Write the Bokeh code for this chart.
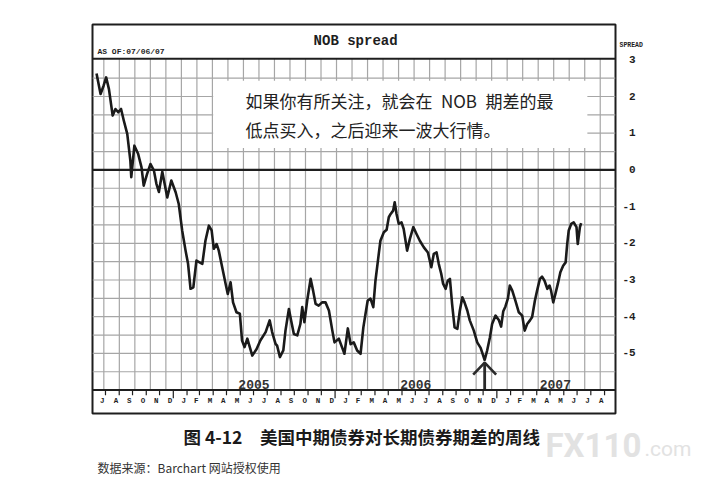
import pandas as pd
from bokeh.plotting import figure
from bokeh.layouts import column, row
from bokeh.models import Range1d, LinearAxis, FixedTicker, Label, Span, BoxAnnotation
from bokeh.embed import file_html
from bokeh.resources import INLINE
from bokeh.core.properties import value

# ---------------- data ----------------
first_bar_date = "2004-07-09"          # weekly bars, week index counted from this Friday
week_idx = [0.4, 1.7, 2.7, 3.5, 4.4, 5.6, 6.5, 7.4, 8.3, 9.2,
            10.3, 11.3, 11.6, 12.6, 13.8, 14.9, 15.6, 16.7, 17.8, 18.9,
            19.7, 20.5, 21.6, 23.2, 24.5, 25.9, 26.9, 28.0, 29.1, 29.9,
            30.7, 31.6, 32.6, 34.5, 35.5, 36.6, 37.5, 38.2, 39.1, 39.8,
            40.9, 42.0, 42.7, 43.6, 44.4, 45.5, 46.6, 47.3, 48.1, 49.0,
            49.8, 50.6, 52.0, 53.2, 54.9, 56.2, 57.0, 58.1, 58.6, 59.5,
            60.6, 61.3, 62.4, 63.1, 64.0, 65.1, 66.1, 66.7, 67.4, 68.3,
            69.4, 70.2, 71.0, 72.0, 73.1, 74.2, 75.3, 76.4, 77.1, 78.5,
            79.6, 80.3, 81.4, 82.3, 83.3, 84.4, 85.5, 86.4, 87.1, 87.8,
            88.7, 89.6, 90.3, 91.1, 91.9, 93.0, 93.9, 94.6, 95.2, 96.0,
            96.5, 97.1, 97.8, 98.7, 99.4, 100.5, 101.4, 102.5, 103.5, 104.6,
            105.9, 107.2, 108.3, 109.1, 110.0, 110.7, 111.5, 112.1, 112.9, 113.6,
            114.3, 115.0, 115.8, 116.7, 117.5, 118.3, 119.0, 119.9, 120.7, 122.0,
            123.1, 124.2, 125.5, 126.3, 127.2, 127.9, 129.0, 130.1, 130.8, 131.5,
            132.2, 133.0, 133.6, 134.4, 135.4, 136.5, 137.6, 138.4, 139.2, 140.1,
            140.8, 141.7, 142.4, 143.3, 144.0, 144.8, 145.7, 146.4, 146.9, 147.6,
            148.3, 149.1, 149.9, 150.8, 151.6, 152.1, 152.6, 153.4, 154.2, 155.1,
            155.5, 156.2, 156.6]
spread = [2.63, 2.07, 2.30, 2.52, 2.20, 1.48, 1.66, 1.57, 1.66, 1.34,
          0.98, 0.25, -0.20, 0.66, 0.44, 0.07, -0.43, -0.11, 0.16, -0.02,
          -0.38, -0.60, -0.05, -0.75, -0.29, -0.61, -0.93, -1.65, -2.20, -2.56,
          -3.24, -3.20, -2.47, -2.56, -1.93, -1.52, -1.65, -2.15, -2.02, -2.20,
          -2.65, -3.10, -3.38, -3.06, -3.61, -3.88, -3.92, -4.65, -4.83, -4.60,
          -4.83, -5.06, -4.88, -4.65, -4.42, -4.10, -4.42, -4.74, -4.79, -5.10,
          -4.92, -4.38, -3.79, -4.10, -4.47, -4.51, -4.20, -3.74, -4.15, -3.56,
          -2.97, -3.29, -3.65, -3.70, -3.61, -3.61, -3.83, -4.38, -4.70, -4.60,
          -4.85, -5.01, -4.32, -4.75, -4.70, -4.92, -5.01, -4.29, -3.92, -3.56,
          -3.51, -3.74, -3.02, -2.47, -1.93, -1.70, -1.63, -1.29, -1.20, -1.11,
          -0.88, -1.20, -1.47, -1.43, -1.61, -2.20, -1.88, -1.56, -1.74, -1.93,
          -2.11, -2.25, -2.65, -2.29, -2.25, -2.56, -2.83, -3.10, -3.24, -3.02,
          -2.97, -3.65, -4.29, -4.33, -3.83, -3.47, -3.61, -3.83, -4.10, -4.38,
          -4.70, -4.85, -5.18, -4.92, -4.56, -4.20, -3.97, -4.10, -4.27, -3.85,
          -3.72, -3.50, -3.15, -3.29, -3.56, -3.88, -3.97, -4.38, -4.20, -4.10,
          -4.01, -3.56, -3.29, -2.97, -2.91, -3.02, -3.24, -3.15, -3.29, -3.61,
          -3.38, -3.10, -2.79, -2.61, -2.52, -2.02, -1.65, -1.47, -1.43, -1.56,
          -2.02, -1.56, -1.45]

month_first = "2004-07-01"
month_letters = list("JASONDJFMAMJJASONDJFMAMJJASONDJFMAMJJA")
year_labels = ["2005", "2006", "2007"]
year_label_dates = ["2005-07-02", "2006-07-02", "2007-05-13"]
y_ticks = [-5, -4, -3, -2, -1, 0, 1, 2, 3]

title_text = "NOB spread"
asof_text = "AS OF:07/06/07"
axis_name = "SPREAD"
note_lines = ["如果你有所关注，就会在\u2002NOB\u2002期差的最", "低点买入，之后迎来一波大行情。"]
caption_text = "图 4-12\u3000美国中期债券对长期债券期差的周线"
source_text = "数据来源：Barchart 网站授权使用"
watermark_main = "FX110"
watermark_tail = ".com"

# ---------------- helpers ----------------
base = pd.Timestamp(first_bar_date)


def to_week(d):
    return (pd.Timestamp(d) - base).days / 7.0


months = pd.date_range(month_first, periods=len(month_letters), freq="MS")
month_end_w = [to_week(m + pd.offsets.MonthBegin(1)) for m in months]
month_is_dec = [m.month == 12 for m in months]
year_w = [to_week(d) for d in year_label_dates]

X0, X1 = -0.9, 167.67
Y_LO, Y_HI = -6.0, 3.03          # plotting area inside the box
INK = "#1e1e1e"

p = figure(width=727, height=420, x_range=Range1d(X0, X1), y_range=Range1d(-6.638, 3.962),
           output_backend="svg", toolbar_location=None,
           x_axis_location=None, y_axis_location=None,
           min_border_left=92, min_border_right=112, min_border_top=24, min_border_bottom=7)
p.grid.visible = False
p.outline_line_color = INK
p.outline_line_width = 2
p.background_fill_color = "white"
p.border_fill_color = "white"

# grid
gx = [2.75 + 5 * k for k in range(33)]
p.segment(x0=gx, y0=[Y_LO] * len(gx), x1=gx, y1=[Y_HI] * len(gx),
          line_color="#a6a6a6", line_width=1.2)
gy = [-5.5 + 0.5 * k for k in range(17) if abs(-5.5 + 0.5 * k) > 1e-9]
p.segment(x0=[X0] * len(gy), y0=gy, x1=[X1] * len(gy), y1=gy,
          line_color="#a6a6a6", line_width=1.2)

# zero line and box lines
p.segment(x0=[X0], y0=[0], x1=[X1], y1=[0], line_color=INK, line_width=2.4)
p.add_layout(Span(location=Y_HI, dimension="width", line_color=INK, line_width=2))
p.add_layout(Span(location=Y_LO, dimension="width", line_color=INK, line_width=2))

# note background
p.add_layout(BoxAnnotation(left=38.0, right=158.6, bottom=0.6, top=2.43,
                           fill_color="white", fill_alpha=1.0, line_color=None))

# data line
p.line(week_idx, spread, line_color="#1a1a1a", line_width=2.6, line_join="round")

# arrow at the low point
imin = min(range(len(spread)), key=lambda i: spread[i])
ax_w, tip = week_idx[imin], spread[imin] - 0.07
p.segment(x0=[ax_w], y0=[Y_LO], x1=[ax_w], y1=[tip], line_color="#2a2a2a", line_width=2.8)
p.multi_line(xs=[[ax_w - 3.7, ax_w, ax_w + 3.7]], ys=[[tip - 0.33, tip, tip - 0.33]],
             line_color="#2a2a2a", line_width=2.6)

# month strip
tick_len = [0.22 if d else 0.14 for d in month_is_dec]
p.segment(x0=month_end_w, y0=[Y_LO] * len(month_end_w), x1=month_end_w,
          y1=[Y_LO - t for t in tick_len], line_color=INK, line_width=1.2)
p.text(x=[w - 1.06 for w in month_end_w], y=[-6.29] * len(month_letters), text=month_letters,
       text_font=value("Liberation Mono"), text_font_style="bold", text_font_size="7.5px",
       text_align="center", text_baseline="middle", text_color=INK)
p.text(x=year_w, y=[Y_LO + 0.02] * len(year_w), text=year_labels,
       text_font=value("Liberation Mono"), text_font_style="bold", text_font_size="13px",
       text_align="center", text_baseline="bottom", text_color="#333333")

# right axis with the values
ax = LinearAxis(ticker=FixedTicker(ticks=y_ticks), axis_line_color=None,
                major_tick_line_color=None, minor_tick_line_color=None,
                major_tick_in=0, major_tick_out=0,
                major_label_standoff=7, major_label_text_font="Liberation Mono",
                major_label_text_font_style="bold", major_label_text_font_size="11px",
                major_label_text_color=INK,
                major_label_overrides={t: ("\u00a0" + str(t)) if t >= 0 else str(t) for t in y_ticks})
p.add_layout(ax, "right")
# second right axis carrying only the series name, pulled back next to the frame
ax2 = LinearAxis(ticker=FixedTicker(ticks=[3.39]), axis_line_color=None,
                 major_tick_line_color=None, minor_tick_line_color=None,
                 major_tick_in=0, major_tick_out=0,
                 major_label_standoff=-19, major_label_text_font="Liberation Mono",
                 major_label_text_font_style="bold", major_label_text_font_size="6.5px",
                 major_label_text_color=INK, major_label_overrides={3.39: axis_name})
p.add_layout(ax2, "right")

# texts inside the box
p.add_layout(Label(x=83.9, y=3.50, text=title_text, text_font="Liberation Mono",
                   text_font_style="bold", text_font_size="14px", text_align="center",
                   text_baseline="middle", text_color=INK))
p.add_layout(Label(x=0.7, y=3.22, text=asof_text, text_font="Liberation Mono",
                   text_font_style="bold", text_font_size="8px", text_align="left",
                   text_baseline="middle", text_color=INK))
for line_text, yy in zip(note_lines, [1.89, 1.10]):
    p.add_layout(Label(x=48.4, y=yy, text=line_text, text_font="Noto Sans CJK SC",
                       text_font_size="17px", text_align="left", text_baseline="middle",
                       text_color="#222222"))

# ---------------- caption strip (page pixel coordinates) ----------------
c = figure(width=727, height=78, x_range=Range1d(0, 727), y_range=Range1d(498, 420),
           output_backend="svg", toolbar_location=None,
           x_axis_location=None, y_axis_location=None,
           min_border_left=0, min_border_right=0, min_border_top=0, min_border_bottom=0)
c.grid.visible = False
c.outline_line_color = None
c.background_fill_color = "white"
c.border_fill_color = "white"

c.text(x=[545], y=[445], text=[watermark_main], text_font=value("Roboto"),
       text_font_style="bold", text_font_size="33px", text_align="left",
       text_baseline="middle", text_color="#e2e2e2")
c.text(x=[644], y=[448], text=[watermark_tail], text_font=value("Roboto"),
       text_font_size="21px", text_align="left", text_baseline="middle",
       text_color="#e2e2e2")
c.text(x=[183], y=[436], text=[caption_text], text_font=value("Noto Sans CJK SC"),
       text_font_style="bold", text_font_size="17.5px", text_align="left",
       text_baseline="middle", text_color="#1a1a1a")
c.text(x=[97], y=[467], text=[source_text], text_font=value("Noto Sans CJK SC"),
       text_font_size="12px", text_align="left", text_baseline="middle",
       text_color="#333333")

layout = column(p, row(c), spacing=0)
open("out.html", "w").write(file_html(layout, INLINE))
